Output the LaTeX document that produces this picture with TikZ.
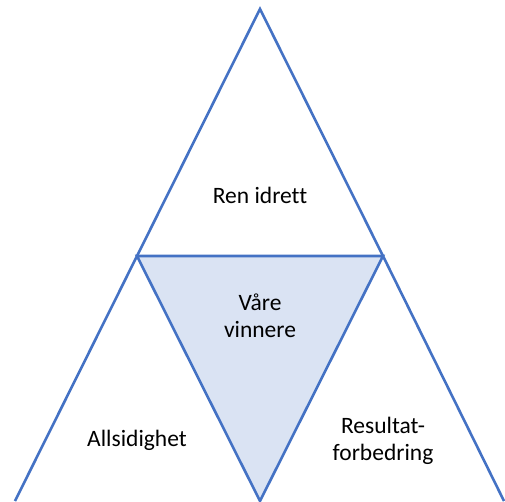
\documentclass[tikz,border=0pt]{standalone}
\usepackage{fontspec}
\setmainfont[Ligatures={NoCommon}]{Carlito}
\usetikzlibrary{positioning}
\definecolor{triblue}{HTML}{4472C4}
\definecolor{trifill}{HTML}{DAE3F3}

\begin{document}
\begin{tikzpicture}[x=1pt,y=-1pt]
			\useasboundingbox (0,0) rectangle (505,501);
			\clip (0,0) rectangle (505,501);

			\coordinate (T) at (260,9);
			\coordinate (L) at (137,256);
			\coordinate (R) at (383,256);
			\coordinate (B) at (260,501);
			\coordinate (BL) at (15,501);
			\coordinate (BR) at (504,501);

			\begin{scope}[every path/.style={draw=triblue,line width=2.6pt,line join=miter}]
				\path[fill=trifill] (L) -- (R) -- (B) -- cycle;
				\path (L) -- (T) -- (R);
				\path (BL) -- (L);
				\path (R) -- (BR);
			\end{scope}

			\begin{scope}[every node/.style={align=center,font=\fontsize{23.5}{27}\selectfont}]
				\node (ren) at (260,195) {Ren idrett};
				\node (vaare) at (260,316) {Våre\\vinnere};
				\node (alls) at (137,440) {Allsidighet};
				\node (res) at (383,441) {Resultat-\\forbedring};
			\end{scope}
		\end{tikzpicture}
\end{document}
